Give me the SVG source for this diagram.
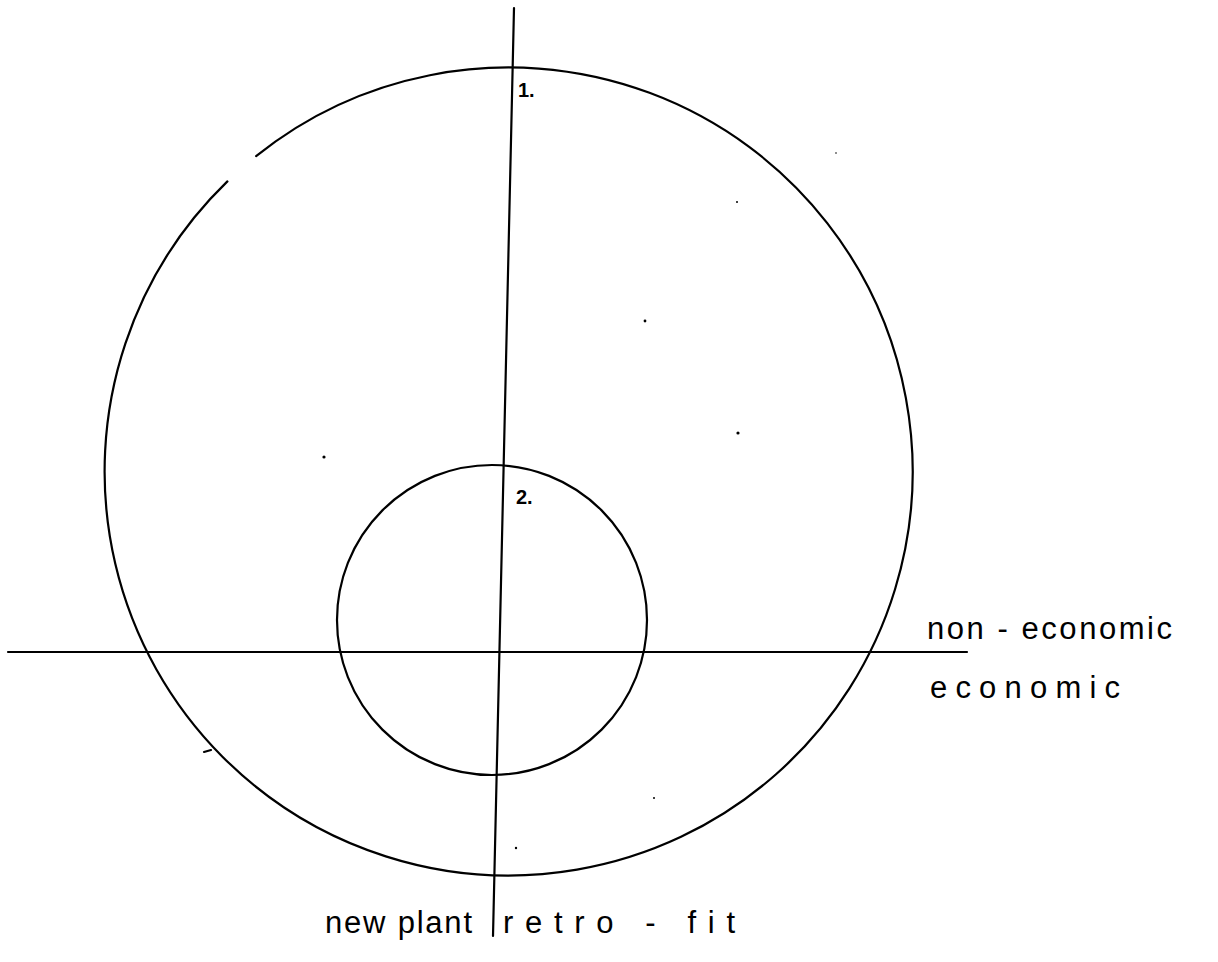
<svg xmlns="http://www.w3.org/2000/svg" width="1218" height="962" viewBox="0 0 1218 962">
<style>
.ln{fill:none;stroke:#000;stroke-width:2.2;stroke-linecap:round}
.lbl{font-family:"Liberation Sans",Arial,sans-serif;fill:#000}
.hand{font-size:31px}
.num{font-size:20px;font-weight:bold}
.dot{fill:#000}
</style>
<rect width="1218" height="962" fill="#fff"/>
<g id="outer-circle">
<path class="ln" d="M256.1,156.1 A404,404 0 1,1 227.4,181.4"/>
<line class="ln" x1="204" y1="752" x2="211" y2="750"/>
<text class="lbl num" x="518" y="97">1.</text>
</g>
<g id="inner-circle">
<circle class="ln" cx="492" cy="620" r="155"/>
<text class="lbl num" x="516" y="504">2.</text>
</g>
<g id="axes">
<line class="ln" x1="514" y1="8" x2="493" y2="936"/>
<line class="ln" x1="8" y1="652" x2="967" y2="652"/>
</g>
<g id="labels">
<text class="lbl hand" x="927" y="639" textLength="245" lengthAdjust="spacing">non - economic</text>
<text class="lbl hand" x="930" y="698" textLength="190" lengthAdjust="spacing">economic</text>
<text class="lbl hand" x="325" y="933" textLength="147" lengthAdjust="spacing">new plant</text>
<text class="lbl hand" x="503" y="933" textLength="232" lengthAdjust="spacing">retro - fit</text>
</g>
<g id="specks">
<circle class="dot" cx="324" cy="457" r="1.6"/>
<circle class="dot" cx="645" cy="321" r="1.4"/>
<circle class="dot" cx="737" cy="202" r="1"/>
<circle class="dot" cx="836" cy="153" r="0.8"/>
<circle class="dot" cx="738" cy="433" r="1.6"/>
<circle class="dot" cx="654" cy="798" r="1"/>
<circle class="dot" cx="516" cy="848" r="1.2"/>
</g>
</svg>
